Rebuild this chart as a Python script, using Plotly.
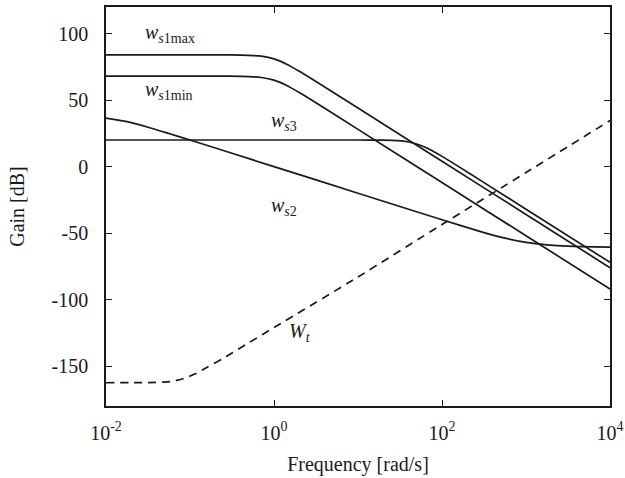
import plotly.graph_objects as go

# Frequencies [rad/s] and gains [dB]
freq_ws1 = [0.01, 0.1, 0.3, 0.5, 0.707, 1, 1.414, 2, 3.16, 10, 100, 1000, 10000]
ws1max = [84, 84, 84, 83.7, 83, 81, 77, 71.7, 64, 44, 4, -36, -76]
ws1min = [68, 68, 68, 67.7, 67, 65, 61, 55.7, 48, 28, -12, -52, -92]

freq_ws3 = [0.01, 1, 10, 20, 30, 40, 50, 60, 70.7, 100, 158, 300, 1000, 10000]
ws3 = [20, 20, 20, 19.9, 19.5, 18.5, 17.0, 15.1, 13.0, 7.7, 0, -11.1, -32, -72]

freq_ws2 = [0.01, 0.0178, 0.0316, 0.056, 0.1, 0.316, 1, 10, 100, 316, 562, 1000, 1778, 3162, 10000]
ws2 = [36.5, 33.8, 29.6, 24.9, 20, 10, 0, -20, -40, -49.6, -53.8, -57, -58.8, -59.8, -60.5]

freq_wt = [0.01, 0.0316, 0.05, 0.063, 0.083, 0.112, 0.158, 0.251, 0.5, 1, 10, 100, 1000, 10000]
wt = [-162.5, -162.4, -162.0, -161.3, -159.5, -156.2, -151, -144, -132.5, -121, -83, -43.5, -4.5, 34.6]

x_tickvals = [0.01, 1, 100, 10000]
x_ticktext = ["10<sup>-2</sup>", "10<sup>0</sup>", "10<sup>2</sup>", "10<sup>4</sup>"]
y_tickvals = [100, 50, 0, -50, -100, -150]
y_ticktext = ["100", "50", "0", "-50", "-100", "-150"]

FONT = "Liberation Serif"
INK = "#1a1a1a"
LW = 1.7

fig = go.Figure()
for f, v in [(freq_ws1, ws1max), (freq_ws1, ws1min), (freq_ws3, ws3), (freq_ws2, ws2)]:
    fig.add_trace(go.Scatter(x=f, y=v, mode="lines",
                             line=dict(color=INK, width=LW, shape="spline", smoothing=0.6),
                             showlegend=False, hoverinfo="skip"))
fig.add_trace(go.Scatter(x=freq_wt, y=wt, mode="lines",
                         line=dict(color=INK, width=LW, dash="8px,6px", shape="spline", smoothing=0.6),
                         showlegend=False, hoverinfo="skip"))

labels = [
    ("<i>w</i><sub><i>s</i>1max</sub>", -1.56, 100),
    ("<i>w</i><sub><i>s</i>1min</sub>", -1.56, 57),
    ("<i>w</i><sub><i>s</i>3</sub>", -0.06, 34),
    ("<i>w</i><sub><i>s</i>2</sub>", -0.06, -30),
    ("<i>W</i><sub><i>t</i></sub>", 0.15, -125),
]
for txt, lx, ly in labels:
    fig.add_annotation(x=lx, y=ly, text=txt, showarrow=False, xanchor="left", yanchor="middle",
                       font=dict(family=FONT, size=20, color=INK))

axis_common = dict(showline=True, linecolor=INK, linewidth=1.5, mirror="allticks",
                   ticks="inside", ticklen=6, tickwidth=1, tickcolor=INK,
                   showgrid=False, zeroline=False, ticklabeloverflow="allow", automargin=False,
                   tickfont=dict(family=FONT, size=20, color=INK))

fig.update_xaxes(type="log", range=[-2, 4], tickvals=x_tickvals, ticktext=x_ticktext,
                 ticklabelstandoff=8,
                 title=dict(text="Frequency [rad/s]", font=dict(family=FONT, size=20, color=INK), standoff=14),
                 **axis_common)
fig.update_yaxes(range=[-180, 120], tickvals=y_tickvals, ticktext=y_ticktext,
                 ticklabelstandoff=12,
                 title=dict(text="Gain [dB]", font=dict(family=FONT, size=20, color=INK), standoff=22),
                 **axis_common)

fig.update_layout(width=625, height=478, autosize=False, margin=dict(l=106, r=15, t=7, b=72),
                  plot_bgcolor="white", paper_bgcolor="white",
                  font=dict(family=FONT, size=20, color=INK))

# remove the default page margin so the 625x478 figure fits the window exactly
fig.write_html("out.html", config={"displayModeBar": False, "responsive": False},
               post_script="document.body.style.margin='0';")
